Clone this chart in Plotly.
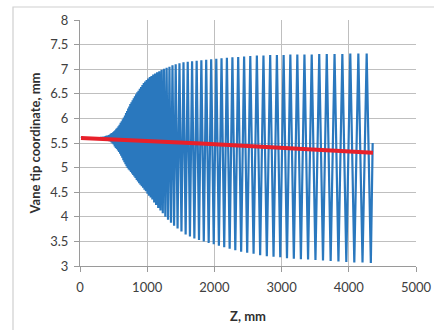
import plotly.graph_objects as go

# Axial positions (mm) of vane-tip maxima, read/
z_peak = [29, 45, 61, 77, 93, 109, 125, 141, 157, 173,
          189, 205, 221, 237, 253, 269, 285,
          301, 317, 333, 349, 365, 381, 397, 413, 429, 445,
          461, 477, 493, 509, 525, 541, 557, 573, 589, 605,
          621, 637, 653, 669, 685, 701, 717, 733, 749, 766,
          783, 800, 817, 835, 853, 871, 890, 909, 929, 949,
          970, 992, 1015, 1039, 1064, 1090, 1118, 1148, 1180, 1214,
          1250, 1289, 1331, 1376,
          1424, 1480, 1540, 1603, 1668, 1736, 1806, 1878, 1952, 2028,
          2106, 2186, 2268, 2354, 2442, 2534, 2632, 2730, 2830, 2930,
          3030, 3130, 3234, 3340, 3448, 3560, 3672, 3788, 3904, 4022,
          4142, 4266]
r_peak = [5.61, 5.61, 5.61, 5.61, 5.61, 5.61, 5.61, 5.61, 5.61, 5.61,
          5.61, 5.61, 5.61, 5.61, 5.61, 5.61, 5.61,
          5.61, 5.62, 5.62, 5.63, 5.63, 5.64, 5.65, 5.65, 5.66, 5.67,
          5.69, 5.70, 5.72, 5.74, 5.76, 5.79, 5.81, 5.84, 5.87, 5.91,
          5.94, 5.98, 6.02, 6.06, 6.11, 6.15, 6.20, 6.24, 6.29, 6.33,
          6.37, 6.41, 6.45, 6.49, 6.53, 6.56, 6.60, 6.64, 6.68, 6.72,
          6.75, 6.78, 6.81, 6.84, 6.86, 6.89, 6.91, 6.94, 6.96, 6.99,
          7.01, 7.03, 7.05, 7.08,
          7.10, 7.12, 7.14, 7.15, 7.16, 7.17, 7.18, 7.19, 7.20, 7.21,
          7.22, 7.23, 7.24, 7.25, 7.26, 7.27, 7.28, 7.28, 7.29, 7.29,
          7.29, 7.30, 7.30, 7.30, 7.30, 7.31, 7.31, 7.31, 7.31, 7.32,
          7.32, 7.32]

# Axial positions (mm) of vane-tip minima
z_trough = [37, 53, 69, 85, 101, 117, 133, 149, 165, 181,
            197, 213, 229, 245, 261, 277,
            293, 309, 325, 341, 357, 373, 389, 405, 421, 437,
            453, 469, 485, 501, 517, 533, 549, 565, 581, 597,
            613, 629, 645, 661, 677, 693, 709, 725, 741, 758,
            775, 792, 809, 826, 844, 862, 881, 900, 919, 939,
            960, 981, 1004, 1027, 1052, 1077, 1104, 1133, 1164, 1197,
            1232, 1270, 1310, 1354, 1400,
            1452, 1510, 1572, 1636, 1702, 1771, 1842, 1915, 1990, 2067,
            2146, 2227, 2311, 2398, 2488, 2583, 2681, 2780, 2880, 2980,
            3080, 3182, 3287, 3394, 3504, 3616, 3730, 3846, 3963, 4082,
            4204, 4328]
r_trough = [5.59, 5.59, 5.59, 5.59, 5.59, 5.59, 5.59, 5.59, 5.59, 5.59,
            5.59, 5.59, 5.59, 5.59, 5.59, 5.59,
            5.58, 5.58, 5.58, 5.57, 5.57, 5.57, 5.56, 5.56, 5.55, 5.54,
            5.53, 5.51, 5.49, 5.47, 5.43, 5.40, 5.38, 5.35, 5.32, 5.28,
            5.24, 5.20, 5.15, 5.11, 5.07, 5.03, 4.99, 4.96, 4.94, 4.91,
            4.88, 4.85, 4.82, 4.79, 4.75, 4.72, 4.68, 4.65, 4.62, 4.59,
            4.55, 4.52, 4.47, 4.43, 4.39, 4.35, 4.29, 4.24, 4.18, 4.13,
            4.07, 4.00, 3.94, 3.88, 3.82,
            3.76, 3.70, 3.64, 3.60, 3.56, 3.53, 3.50, 3.47, 3.44, 3.41,
            3.38, 3.35, 3.32, 3.29, 3.27, 3.25, 3.22, 3.20, 3.19, 3.18,
            3.16, 3.15, 3.14, 3.13, 3.12, 3.11, 3.10, 3.09, 3.08, 3.07,
            3.07, 3.06]

z_start, r_start = 15, 5.60
z_end, r_end = 4355, 5.50

# Mean aperture (red line)
z_mean = [15, 1800, 4360]
r_mean = [5.60, 5.49, 5.30]

x_ticks = [0, 1000, 2000, 3000, 4000, 5000]
y_ticks = [3, 3.5, 4, 4.5, 5, 5.5, 6, 6.5, 7, 7.5, 8]

assert len(z_peak) == len(r_peak) == len(z_trough) == len(r_trough)

# Build vane-tip polyline alternating maxima and minima
zs = [z_start]
rs = [r_start]
for zp, rp, zt, rt in zip(z_peak, r_peak, z_trough, r_trough):
    zs += [zp, zt]
    rs += [rp, rt]
zs.append(z_end)
rs.append(r_end)

fig = go.Figure()
fig.add_trace(go.Scatter(x=zs, y=rs, mode="lines",
                         line=dict(color="#2A78BE", width=2.2),
                         showlegend=False, hoverinfo="skip"))
fig.add_trace(go.Scatter(x=z_mean, y=r_mean, mode="lines",
                         line=dict(color="#E8202A", width=4),
                         showlegend=False, hoverinfo="skip"))

font = dict(family="Lato, Open Sans, sans-serif", size=13, color="#404040")
title_font = dict(family="Lato, Open Sans, sans-serif", size=13, color="#303030")
grid = "#BFBFBF"

fig.update_layout(
    width=434, height=330,
    margin=dict(l=80, r=18, t=20, b=64),
    paper_bgcolor="white", plot_bgcolor="white",
    font=font,
    xaxis=dict(range=[0, 5000], tickvals=x_ticks, ticktext=[str(v) for v in x_ticks],
               showgrid=True, gridcolor=grid, gridwidth=1,
               showline=True, linecolor="#9A9A9A", linewidth=1,
               ticks="outside", ticklen=5, tickcolor="#9A9A9A",
               zeroline=False, ticklabelstandoff=4,
               title=dict(text="<b>Z, mm</b>", standoff=18, font=title_font)),
    yaxis=dict(range=[3, 8], tickvals=y_ticks, ticktext=[f"{v:g}" for v in y_ticks],
               showgrid=True, gridcolor=grid, gridwidth=1,
               showline=True, linecolor="#9A9A9A", linewidth=1,
               ticks="outside", ticklen=5, tickcolor="#9A9A9A",
               zeroline=False, ticklabelstandoff=3,
               title=dict(text="<b>Vane tip coordinate, mm</b>", standoff=6, font=title_font)),
    shapes=[dict(type="rect", xref="paper", yref="paper",
                 x0=-0.1994, x1=1.6, y0=-0.6, y1=1.0528,
                 line=dict(color="#D0D0D0", width=1.2), fillcolor="rgba(0,0,0,0)",
                 layer="below")],
)
fig.update_xaxes(automargin=False)
fig.update_yaxes(automargin=False)

fig.write_html("out.html")
